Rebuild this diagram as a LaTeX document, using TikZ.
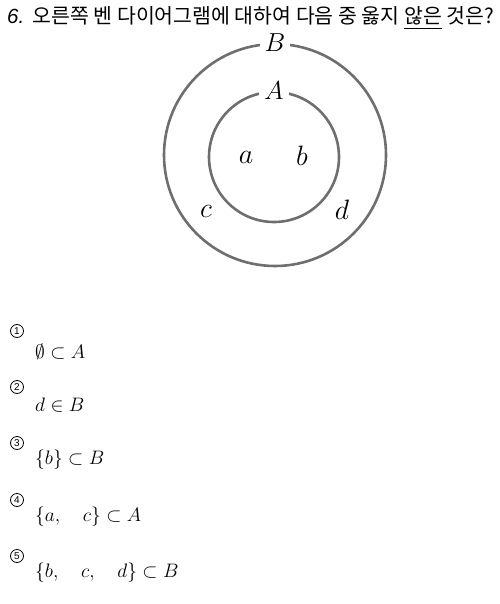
\RequirePackage{fix-cm}
\documentclass[tikz,border=0pt]{standalone}
\usepackage{fontspec}
\usepackage{amssymb}
\newfontfamily\kor{Noto Sans CJK KR}
\newfontfamily\libsans{Liberation Sans}
\begin{document}
\begin{tikzpicture}[x=1pt,y=-1pt,
  ring/.style={draw=black!57,line width=2.6pt},
  lab/.style={font=\fontsize{26}{26}\selectfont,fill=white,inner xsep=5pt,inner ysep=0pt},
  elem/.style={font=\fontsize{28}{28}\selectfont},
  num/.style={circle,draw,line width=0.8pt,minimum size=13pt,inner sep=0pt,font=\libsans\fontsize{10}{10}\selectfont},
  expr/.style={font=\fontsize{19.5}{19.5}\selectfont,anchor=west,inner sep=0pt}]
\useasboundingbox (0,0) rectangle (499,604);
\node[anchor=base west,inner sep=0pt,font=\fontsize{20.5}{20.5}\selectfont] (title) at (7,24)
  {{\libsans\itshape 6.} {\kor 오른쪽 벤 다이어그램에 대하여 다음 중 옳지 \underline{않은} 것은?}};
\node[ring,circle,minimum size=222pt,inner sep=0pt] (setB) at (275,155) {};
\node[ring,circle,minimum size=130pt,inner sep=0pt] (setA) at (274,157) {};
\node[lab] (lB) at (setB.north) {$B$};
\node[lab] (lA) at (setA.north) {$A$};
\node[elem] (ea) at (246,157) {$a$};
\node[elem] (eb) at (302,156) {$b$};
\node[elem] (ec) at (206,211) {$c$};
\node[elem] (ed) at (342,210) {$d$};
\node[num] (n1) at (17,331) {1};
\node[num] (n2) at (17,387) {2};
\node[num] (n3) at (17,443) {3};
\node[num] (n4) at (17,500) {4};
\node[num] (n5) at (17,556) {5};
\node[expr] (o1) at (35,352) {$\emptyset\subset A$};
\node[expr] (o2) at (35,405) {$d\in B$};
\node[expr] (o3) at (35,460) {$\{b\}\subset B$};
\node[expr] (o4) at (35,517) {$\{a,\quad c\}\subset A$};
\node[expr] (o5) at (35,573) {$\{b,\quad c,\quad d\}\subset B$};
\end{tikzpicture}
\end{document}
